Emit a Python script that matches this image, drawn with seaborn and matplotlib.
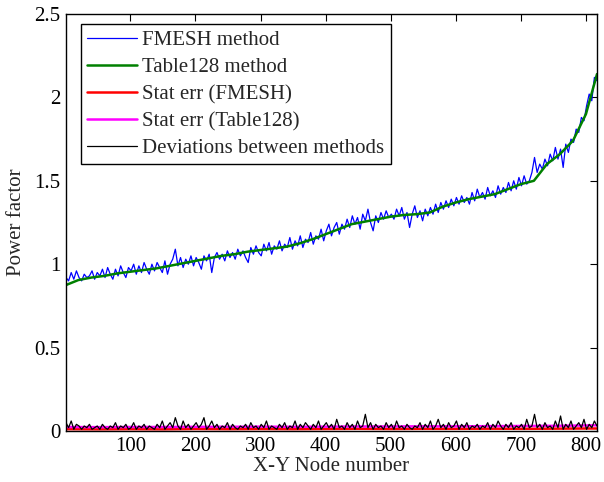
import numpy as np
import matplotlib
matplotlib.use("Agg")
import matplotlib.pyplot as plt
import seaborn as sns

# Table128 method (smooth curve), read at coarse node positions
table_nodes = [1, 20, 40, 60, 80, 100, 120, 140, 160, 180, 200, 220, 240, 260, 280,
               300, 320, 340, 360, 380, 400, 420, 440, 460, 480, 500, 520, 540, 560,
               580, 600, 620, 640, 660, 680, 700, 720, 740, 760, 780, 800, 817]
table128 = [0.875, 0.905, 0.92, 0.93, 0.945, 0.955, 0.965, 0.975, 0.99, 1.005, 1.02,
            1.035, 1.05, 1.06, 1.075, 1.085, 1.095, 1.105, 1.125, 1.15, 1.18, 1.21,
            1.24, 1.255, 1.27, 1.285, 1.295, 1.30, 1.31, 1.345, 1.37, 1.39, 1.405,
            1.42, 1.45, 1.48, 1.50, 1.60, 1.66, 1.74, 1.90, 2.14]

# FMESH method, every 4th node starting at node 1
fmesh = [0.92, 0.90, 0.95, 0.91, 0.96, 0.92, 0.90, 0.94, 0.92, 0.93,
         0.96, 0.91, 0.95, 0.93, 0.97, 0.92, 0.98, 0.94, 0.91, 0.97,
         0.93, 0.99, 0.95, 0.92, 0.98, 0.96, 1.00, 0.94, 0.99, 0.95,
         1.01, 0.97, 0.94, 1.00, 0.96, 1.01, 0.98, 0.95, 1.02, 0.94,
         1.00, 1.03, 1.09, 0.99, 1.04, 0.98, 1.03, 1.00, 1.05, 0.99,
         1.04, 1.01, 0.97, 1.05, 1.02, 1.06, 0.95, 1.04, 1.07, 1.03,
         1.06, 1.02, 1.08, 1.04, 1.07, 1.03, 1.09, 1.05, 1.08, 1.04,
         1.01, 1.10, 1.06, 1.11, 1.07, 1.05, 1.12, 1.08, 1.13, 1.06,
         1.11, 1.09, 1.14, 1.08, 1.12, 1.10, 1.16, 1.09, 1.14, 1.11,
         1.17, 1.10, 1.15, 1.13, 1.19, 1.12, 1.17, 1.15, 1.21, 1.14,
         1.20, 1.24, 1.17, 1.22, 1.25, 1.18, 1.24, 1.21, 1.27, 1.22,
         1.29, 1.24, 1.28, 1.21, 1.30, 1.26, 1.33, 1.25, 1.20, 1.29,
         1.25, 1.31, 1.27, 1.32, 1.28, 1.30, 1.27, 1.33, 1.29, 1.34,
         1.27, 1.31, 1.22, 1.30, 1.35, 1.28, 1.32, 1.26, 1.33, 1.29,
         1.34, 1.30, 1.36, 1.31, 1.37, 1.33, 1.38, 1.34, 1.39, 1.35,
         1.40, 1.36, 1.41, 1.37, 1.40, 1.36, 1.43, 1.38, 1.45, 1.40,
         1.43, 1.39, 1.46, 1.41, 1.44, 1.40, 1.47, 1.42, 1.46, 1.43,
         1.49, 1.44, 1.50, 1.45, 1.52, 1.47, 1.53, 1.48, 1.50, 1.55,
         1.64, 1.55, 1.60, 1.57, 1.63, 1.59, 1.66, 1.62, 1.70, 1.63,
         1.69, 1.58, 1.72, 1.67, 1.75, 1.73, 1.81, 1.79, 1.88, 1.86,
         1.95, 2.02, 1.98, 2.12, 2.10]

# Deviations between methods, every 4th node starting at node 1
deviations = [0.05, 0.02, 0.06, 0.01, 0.04, 0.03, 0.01, 0.03, 0.02, 0.04,
              0.01, 0.02, 0.03, 0.01, 0.04, 0.02, 0.01, 0.03, 0.02, 0.05,
              0.01, 0.03, 0.02, 0.04, 0.01, 0.02, 0.05, 0.01, 0.03, 0.02,
              0.04, 0.01, 0.03, 0.02, 0.01, 0.04, 0.02, 0.06, 0.01, 0.03,
              0.05, 0.02, 0.08, 0.03, 0.01, 0.06, 0.02, 0.04, 0.01, 0.03,
              0.05, 0.02, 0.04, 0.08, 0.01, 0.03, 0.06, 0.02, 0.04, 0.01,
              0.03, 0.02, 0.05, 0.01, 0.04, 0.02, 0.01, 0.03, 0.02, 0.04,
              0.01, 0.05, 0.02, 0.03, 0.01, 0.04, 0.02, 0.06, 0.01, 0.03,
              0.02, 0.01, 0.04, 0.02, 0.05, 0.01, 0.03, 0.02, 0.06, 0.01,
              0.04, 0.02, 0.05, 0.03, 0.01, 0.04, 0.02, 0.06, 0.01, 0.03,
              0.05, 0.02, 0.04, 0.01, 0.07, 0.02, 0.03, 0.01, 0.05, 0.02,
              0.04, 0.01, 0.06, 0.02, 0.03, 0.10, 0.02, 0.05, 0.01, 0.04,
              0.02, 0.03, 0.01, 0.05, 0.02, 0.04, 0.01, 0.06, 0.02, 0.03,
              0.01, 0.04, 0.02, 0.01, 0.03, 0.02, 0.05, 0.01, 0.04, 0.02,
              0.06, 0.01, 0.03, 0.07, 0.02, 0.04, 0.01, 0.05, 0.02, 0.03,
              0.06, 0.01, 0.04, 0.02, 0.05, 0.01, 0.03, 0.02, 0.04, 0.01,
              0.03, 0.02, 0.05, 0.01, 0.04, 0.02, 0.06, 0.03, 0.01, 0.04,
              0.02, 0.05, 0.01, 0.03, 0.02, 0.04, 0.01, 0.07, 0.02, 0.03,
              0.10, 0.02, 0.04, 0.01, 0.05, 0.02, 0.03, 0.01, 0.06, 0.02,
              0.09, 0.01, 0.04, 0.02, 0.06, 0.01, 0.03, 0.05, 0.02, 0.07,
              0.01, 0.04, 0.02, 0.06, 0.03]

# Statistical errors
err_nodes = [1, 50, 100, 150, 200, 250, 300, 350, 400, 450, 500, 550, 600, 650, 700,
             750, 800, 817]
err_fmesh = [0.011, 0.010, 0.011, 0.010, 0.012, 0.011, 0.012, 0.011, 0.012, 0.013,
             0.012, 0.013, 0.013, 0.014, 0.013, 0.014, 0.015, 0.015]
err_table = [0.024, 0.023, 0.024, 0.024, 0.025, 0.025, 0.026, 0.025, 0.026, 0.027,
             0.027, 0.028, 0.028, 0.029, 0.030, 0.031, 0.033, 0.034]

fmesh_nodes = 1 + 4 * np.arange(len(fmesh))
dev_nodes = 1 + 4 * np.arange(len(deviations))

sns.set_style("white")
plt.rcParams['font.family'] = ['Liberation Serif', 'DejaVu Serif']

fig = plt.figure(figsize=(6.04, 4.82), dpi=100)
ax = fig.add_axes([66 / 604, 51 / 482, 531 / 604, 417 / 482])

sns.lineplot(x=fmesh_nodes, y=fmesh, ax=ax, color='#0000ff', linewidth=0.9,
             label='FMESH method', estimator=None, sort=False)
sns.lineplot(x=table_nodes, y=table128, ax=ax, color='#008000', linewidth=1.8,
             label='Table128 method', estimator=None, sort=False)
sns.lineplot(x=err_nodes, y=err_fmesh, ax=ax, color='#ff0000', linewidth=1.8,
             label='Stat err (FMESH)', estimator=None, sort=False)
sns.lineplot(x=err_nodes, y=err_table, ax=ax, color='#ff00ff', linewidth=1.8,
             label='Stat err (Table128)', estimator=None, sort=False)
sns.lineplot(x=dev_nodes, y=deviations, ax=ax, color='black', linewidth=0.9,
             label='Deviations between methods', estimator=None, sort=False)

ax.set_xlim(1, 817)
ax.set_ylim(0, 2.5)
ax.set_xticks([100, 200, 300, 400, 500, 600, 700, 800])
ax.set_yticks([0, 0.5, 1, 1.5, 2, 2.5])
ax.set_yticklabels(['0', '0.5', '1', '1.5', '2', '2.5'])
ax.tick_params(direction='in', top=True, right=True, length=5, width=0.8,
               labelsize=15, colors='black', pad=4)
for s in ax.spines.values():
    s.set_color('black')
    s.set_linewidth(1.0)

ax.set_xlabel('X-Y Node number', fontsize=15, labelpad=1)
ax.set_ylabel('Power factor', fontsize=15, labelpad=6)

leg = ax.legend(loc='upper left', bbox_to_anchor=(0.028, 0.976), borderaxespad=0,
                fontsize=15, frameon=True, fancybox=False, edgecolor='black',
                framealpha=1, handlelength=2.4, handletextpad=0.25,
                labelspacing=0.36, borderpad=0.3)
leg.get_frame().set_linewidth(1.0)

fig.savefig('out.png', dpi=100)
